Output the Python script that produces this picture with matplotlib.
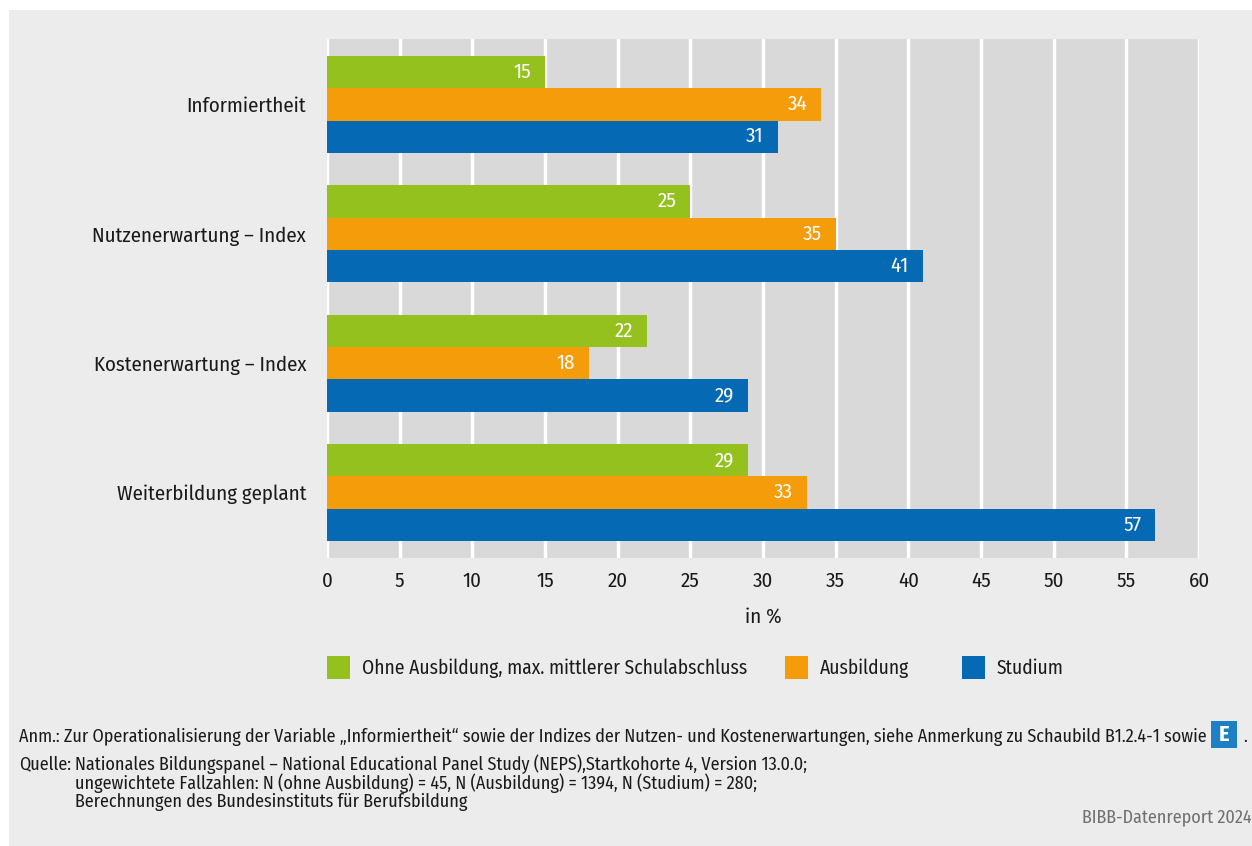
import matplotlib
matplotlib.use("Agg")
import matplotlib.pyplot as plt
from matplotlib.patches import Rectangle
import numpy as np

plt.rcParams['font.family'] = ['Fira Sans Condensed', 'Roboto Condensed', 'PT Sans Narrow', 'DejaVu Sans']

categories = ["Informiertheit", "Nutzenerwartung – Index", "Kostenerwartung – Index", "Weiterbildung geplant"]
series_names = ["Ohne Ausbildung, max. mittlerer Schulabschluss", "Ausbildung", "Studium"]
ohne = [15, 25, 22, 29]
ausbildung = [34, 35, 18, 33]
studium = [31, 41, 29, 57]
colors = ["#95c11f", "#f59c0a", "#0569b3"]
xticks = [0, 5, 10, 15, 20, 25, 30, 35, 40, 45, 50, 55, 60]

W, H = 1252, 846
fig = plt.figure(figsize=(W/100, H/100), dpi=100)
fig.patch.set_facecolor("white")
fig.patches.append(Rectangle((9/W, 0), 1 - 9/W, 1 - 10/H, transform=fig.transFigure,
                             facecolor="#ececec", edgecolor="none", zorder=-10))

ax = fig.add_axes([327/W, 1 - 558/H, (1199-327)/W, (558-39)/H])
ax.set_facecolor("#d9d9d9")
for s in ax.spines.values():
    s.set_visible(False)

fs = 15
bh = 0.25
y = np.arange(len(categories))
for i, (vals, c) in enumerate(zip([ohne, ausbildung, studium], colors)):
    pos = y + (i - 1) * bh
    bars = ax.barh(pos, vals, height=bh, color=c, edgecolor="none", zorder=3, label=series_names[i])
    for b, v in zip(bars, vals):
        ax.annotate(str(v), xy=(v, b.get_y() + bh/2), xytext=(-14, 0), textcoords="offset pixels",
                    ha="right", va="center", color="white", fontsize=fs, zorder=4)

ax.set_xlim(0, 60)
ax.set_ylim(3.505, -0.505)
ax.set_xticks(xticks)
ax.set_xticklabels([str(t) for t in xticks], fontsize=fs, color="#1a1a1a")
ax.set_yticks(y)
ax.set_yticklabels(categories, fontsize=fs, color="#1a1a1a")
ax.tick_params(axis="both", length=0)
ax.tick_params(axis="x", pad=10)
ax.tick_params(axis="y", pad=15)
ax.grid(axis="x", color="white", linewidth=2.5, zorder=1)
ax.set_axisbelow(True)

fig.text(763/W, 1 - 617/H, "in %", ha="center", va="center", fontsize=fs, color="#1a1a1a")

# legend
leg_items = [(327, 362, 0), (785, 820, 1), (962, 997, 2)]
for sx, tx, i in leg_items:
    fig.patches.append(Rectangle((sx/W, 1 - 679/H), 23/W, 23/H, transform=fig.transFigure,
                                 facecolor=colors[i], edgecolor="none"))
    fig.text(tx/W, 1 - 668/H, series_names[i], ha="left", va="center", fontsize=14, color="#1a1a1a")

fn = 13
fig.text(19/W, 1 - 737/H,
         "Anm.: Zur Operationalisierung der Variable \u201eInformiertheit\u201c sowie der Indizes der Nutzen- und Kostenerwartungen, siehe Anmerkung zu Schaubild B1.2.4-1 sowie",
         ha="left", va="center", fontsize=fn, color="#1a1a1a")
fig.patches.append(Rectangle((1211/W, 1 - 748/H), 26/W, 27/H, transform=fig.transFigure,
                             facecolor="#1f7fc4", edgecolor="none"))
fig.text(1224/W, 1 - 735/H, "E", ha="center", va="center", fontsize=16, fontweight="bold", color="white")
fig.text(1243/W, 1 - 737/H, ".", ha="left", va="center", fontsize=fn, color="#1a1a1a")

fig.text(19/W, 1 - 764/H, "Quelle:", ha="left", va="center", fontsize=fn, color="#1a1a1a")
fig.text(75/W, 1 - 764/H,
         "Nationales Bildungspanel – National Educational Panel Study (NEPS),Startkohorte 4, Version 13.0.0;",
         ha="left", va="center", fontsize=fn, color="#1a1a1a")
fig.text(75/W, 1 - 783/H,
         "ungewichtete Fallzahlen: N (ohne Ausbildung) = 45, N (Ausbildung) = 1394, N (Studium) = 280;",
         ha="left", va="center", fontsize=fn, color="#1a1a1a")
fig.text(75/W, 1 - 802/H, "Berechnungen des Bundesinstituts für Berufsbildung",
         ha="left", va="center", fontsize=fn, color="#1a1a1a")
fig.text(1252/W, 1 - 817/H, "BIBB-Datenreport 2024", ha="right", va="center", fontsize=fn, color="#707070")

fig.savefig("out.png", dpi=100, facecolor=fig.get_facecolor())
